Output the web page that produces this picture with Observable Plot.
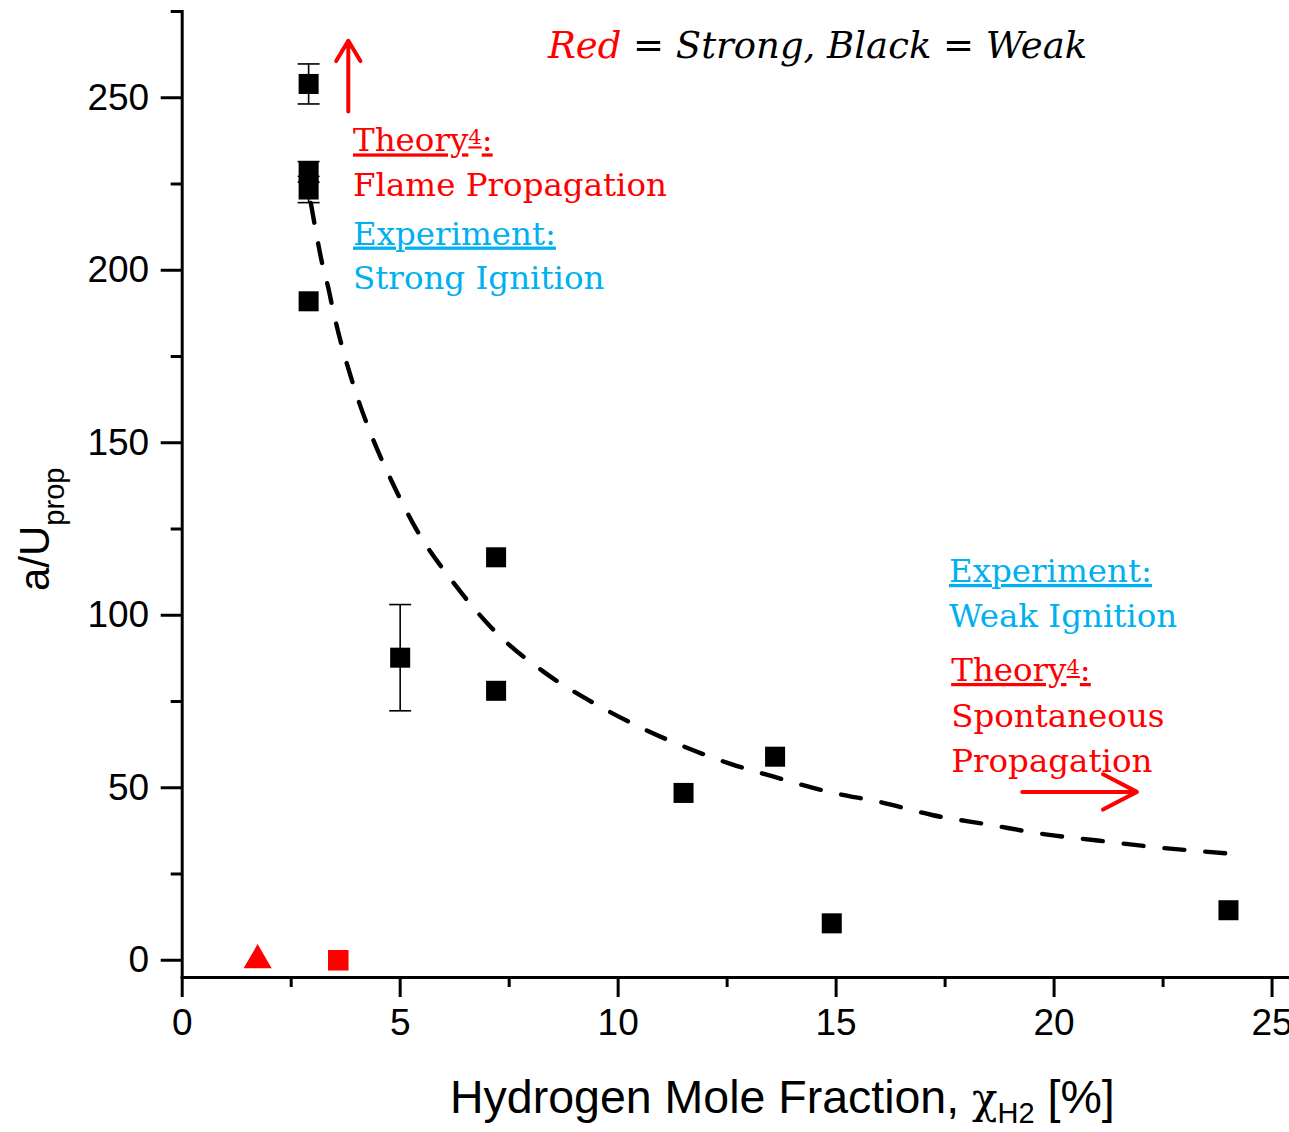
<!DOCTYPE html>
<html>
<head>
<meta charset="utf-8">
<script src="https://cdn.jsdelivr.net/npm/d3@7"></script>
<script src="https://cdn.jsdelivr.net/npm/@observablehq/plot@0.6"></script>
<style>
  html, body { margin: 0; padding: 0; background: #fff; }
  #chart svg { display: block; }
</style>
</head>
<body>
<div id="chart"></div>
<script>
// Weak ignition runs (black squares): hydrogen mole fraction [%] vs a/U_prop
const weakX   = [2.9, 2.9, 2.9, 2.9, 5.0, 7.2, 7.2, 11.5, 13.6, 14.9, 24.0];
const weakY   = [254, 228.5, 223.4, 191, 87.7, 116.8, 78.1, 48.5, 59, 10.7, 14.5];
const weakErr = [5.8, 3, 3.8, 0, 15.4, 0, 0, 0, 0, 0, 0];

// Strong ignition runs (red markers)
const strongX = [1.73, 3.58];
const strongY = [0, 0];
const strongShape = ["triangle", "square"];

// Theoretical boundary between flame propagation and spontaneous propagation
const theoryX = [2.95, 3.1, 3.21, 3.35, 3.45, 3.92, 4.39, 4.8, 5.3, 6.28, 7.2, 8.27, 9.43, 10.41, 11.4, 12.56, 13.57, 14.9, 16.03, 17.2, 18.5, 19.8, 21.0, 22.3, 23.95];
const theoryY = [219.5, 209, 202, 195, 189, 167, 150.6, 139, 126.5, 108.5, 95, 83.8, 74.6, 68.1, 62.5, 57, 53.2, 48.6, 45.8, 42.1, 39.3, 36.5, 34.7, 32.8, 31.0];

// Axis ticks
const xMajor = [0, 5, 10, 15, 20, 25];
const xMinor = [2.5, 7.5, 12.5, 17.5, 22.5];
const yMajor = [0, 50, 100, 150, 200, 250];
const yMinor = [25, 75, 125, 175, 225, 275];

const RED = "#ff0000";
const CYAN = "#00b0f0";

const weak = weakX.map((x, i) => ({x, y: weakY[i], lo: weakY[i] - weakErr[i], hi: weakY[i] + weakErr[i], err: weakErr[i]}));
const weakBars = weak.filter(d => d.err > 0);
const strong = strongX.map((x, i) => ({x, y: strongY[i], shape: strongShape[i]}));
const theory = theoryX.map((x, i) => ({x, y: theoryY[i]}));

// horizontal cap for the error bars
const capSymbol = {
  draw(context, size) {
    const w = Math.sqrt(size);
    context.moveTo(-w / 2, 0);
    context.lineTo(w / 2, 0);
  }
};

const plot = Plot.plot({
  width: 1289,
  height: 1132,
  marginLeft: 181.7,
  marginRight: 0,
  marginTop: 11,
  marginBottom: 155,
  x: {domain: [0, 25.4]},
  y: {domain: [-5, 275]},
  style: {fontFamily: "'Liberation Sans', Arial, sans-serif", fontSize: "37px", color: "#000", background: "#fff"},
  marks: [
    Plot.axisX({ticks: xMajor, tickSize: 20, tickPadding: 11, strokeWidth: 3, label: null, tickFormat: d => String(d)}),
    Plot.axisX({ticks: xMinor, tickSize: 10, strokeWidth: 3, label: null, tickFormat: () => ""}),
    Plot.axisY({ticks: yMajor, tickSize: 21, tickPadding: 12, strokeWidth: 3, label: null, tickFormat: d => String(d)}),
    Plot.axisY({ticks: yMinor, tickSize: 11, strokeWidth: 3, label: null, tickFormat: () => ""}),
    Plot.frame({anchor: "left", strokeWidth: 3}),
    Plot.frame({anchor: "bottom", strokeWidth: 3}),

    // theory curve
    Plot.line(theory, {x: "x", y: "y", curve: "monotone-x", stroke: "#000", strokeWidth: 4.4, strokeDasharray: "20,21", strokeLinecap: "round"}),

    // error bars
    Plot.ruleX(weakBars, {x: "x", y1: "lo", y2: "hi", stroke: "#000", strokeWidth: 1.6}),
    Plot.dot(weakBars, {x: "x", y: "lo", symbol: capSymbol, r: 12.4, stroke: "#000", fill: "none", strokeWidth: 1.6}),
    Plot.dot(weakBars, {x: "x", y: "hi", symbol: capSymbol, r: 12.4, stroke: "#000", fill: "none", strokeWidth: 1.6}),

    // measurements
    Plot.dot(weak, {x: "x", y: "y", symbol: "square", r: 11.3, fill: "#000", stroke: "none"}),
    Plot.dot(strong.filter(d => d.shape === "square"), {x: "x", y: "y", symbol: "square", r: 11.6, fill: RED, stroke: "none"}),
    Plot.dot(strong.filter(d => d.shape === "triangle"), {x: "x", y: "y", symbol: "triangle", r: 10.4, fill: RED, stroke: "none"}),

    // regime arrows
    Plot.arrow([{x1: 3.81, y1: 246, x2: 3.81, y2: 266.5}], {x1: "x1", y1: "y1", x2: "x2", y2: "y2", stroke: RED, strokeWidth: 4, headLength: 22, headAngle: 62}),
    Plot.arrow([{x1: 19.27, y1: 48.8, x2: 21.9, y2: 48.8}], {x1: "x1", y1: "y1", x2: "x2", y2: "y2", stroke: RED, strokeWidth: 4, headLength: 22, headAngle: 55})
  ]
});

document.getElementById("chart").appendChild(plot);

const svg = d3.select(plot);
const sx = plot.scale("x"), sy = plot.scale("y");
const SERIF = "'DejaVu Serif', Georgia, serif";
const SANS = "'Liberation Sans', Arial, sans-serif";

// Regime annotations (left edge in x units, baseline in y units)
function addText(x, y, color) {
  return svg.append("text")
    .attr("x", sx.apply(x)).attr("y", sy.apply(y))
    .attr("text-anchor", "start")
    .attr("font-family", SERIF).attr("font-size", 32.5).attr("fill", color);
}
function theoryLabel(x, y, color) {
  const t = addText(x, y, color).style("text-decoration", "underline");
  t.append("tspan").text("Theory");
  t.append("tspan").attr("font-size", 21).attr("dy", -7).text("4");
  t.append("tspan").attr("dy", 7).text(":");
}
function heading(x, y, color, str) {
  addText(x, y, color).style("text-decoration", "underline").text(str);
}
function line(x, y, color, str) {
  addText(x, y, color).text(str);
}

// upper-left block
theoryLabel(3.93, 234.3, RED);
line(3.93, 221.3, RED, "Flame Propagation");
heading(3.93, 207.3, CYAN, "Experiment:");
line(3.93, 194.3, CYAN, "Strong Ignition");

// right block
heading(17.6, 109.5, CYAN, "Experiment:");
line(17.6, 96.5, CYAN, "Weak Ignition");
theoryLabel(17.65, 80.8, RED);
line(17.65, 67.5, RED, "Spontaneous");
line(17.65, 54.5, RED, "Propagation");

// colour key
const key = svg.append("text")
  .attr("x", sx.apply(8.4)).attr("y", sy.apply(261.5))
  .attr("text-anchor", "start")
  .attr("font-family", SERIF).attr("font-style", "italic").attr("font-size", 37).attr("fill", "#000");
key.append("tspan").attr("fill", RED).text("Red");
key.append("tspan").text(" = Strong, Black = Weak");

// x-axis title
const xt = svg.append("text")
  .attr("x", 450).attr("y", 1113)
  .attr("text-anchor", "start")
  .attr("font-family", SANS).attr("font-size", 46.5).attr("fill", "#000");
xt.append("tspan").text("Hydrogen Mole Fraction, ");
xt.append("tspan").attr("font-family", SERIF).attr("font-size", 42).text("\u03c7");
xt.append("tspan").attr("font-size", 29).attr("dy", 10).text("H2");
xt.append("tspan").attr("dy", -10).text(" [%]");

// y-axis title
const yt = svg.append("text")
  .attr("transform", `translate(49,591) rotate(-90)`)
  .attr("text-anchor", "start")
  .attr("font-family", SANS).attr("font-size", 42).attr("fill", "#000");
yt.append("tspan").text("a/U");
yt.append("tspan").attr("font-size", 29).attr("dy", 15).text("prop");
</script>
</body>
</html>
